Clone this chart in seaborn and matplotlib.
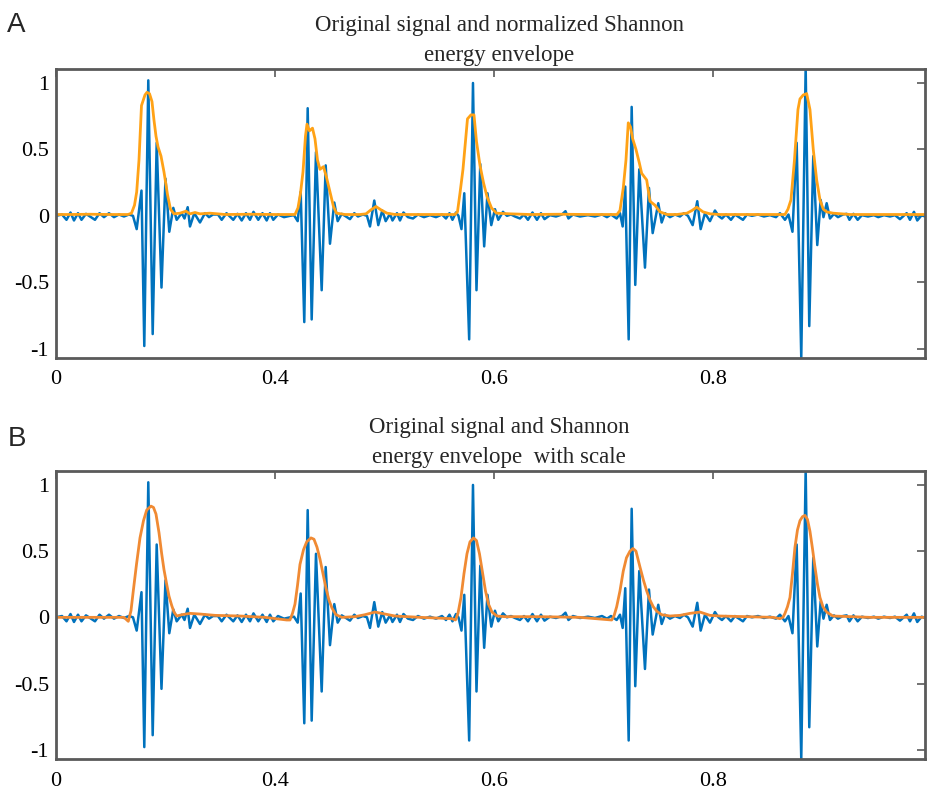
import numpy as np
import pandas as pd
import matplotlib
matplotlib.use("Agg")
import matplotlib.pyplot as plt
import seaborn as sns

# ── Data ───────────────────────────────────────────────────────────────────
FS = 1095          # samples per second (read-off resolution)
T_END = 869 / FS   # end of the recording shown

# heart sound (PCG) signal, peaks/troughs
sig_n = [
    0, 6, 10.5, 14.5, 18, 22, 25.5, 30, 34, 39, 43.5, 48, 53, 58, 63, 68, 73, 77,
    80.7, 85.5, 88.3, 92.3, 96.7, 100.7, 105.5, 109.5, 113.3, 117.3, 120.7, 125.7,
    128.5, 131.7, 134, 138.3, 144, 149, 153, 157,
    162, 165.7, 170.5, 177.3, 181.5, 185.7, 190, 194, 197.5, 202.3, 206.5, 210.7,
    214, 217.3, 222, 228, 234, 238,
    241.7, 244.7, 248.3, 251.7, 255.7, 260, 265.7, 269.7, 274, 278.3, 281.7, 285.7,
    290, 294, 298.3, 302, 307,
    311, 314, 318.3, 322.3, 326.3, 329.7, 334, 336.5, 341, 344, 347.5, 352,
    357, 362, 368, 374, 380, 386, 390, 393.5, 396.5, 400, 402.5,
    405.5, 408.3, 413.2, 417, 420.5, 424.3, 428.2, 431.5, 435.3, 439, 442.3, 447,
    451, 455, 459,
    464, 468, 472, 476.5, 481, 485, 488.5, 494, 500, 506, 509.5, 512.5, 517, 524,
    532, 539, 546, 551, 555,
    560.7, 564, 566.7, 569.3, 572.7, 575.7, 579.3, 583.3, 589, 593, 596.7, 602.3,
    605.7, 609, 614, 619, 624, 628, 632,
    636.7, 641.3, 644.7, 649, 654, 659, 662.5, 666, 670,
    675, 679, 683, 687, 691, 696, 702, 708, 714, 720, 724, 729, 732.5,
    736.5, 740.7, 745.3, 749.7, 753.3, 757.3, 761.3, 764.7, 767.5, 770.7, 774, 778,
    782, 787,
    790.7, 793.5, 797.5, 801.7, 806, 812, 818, 822.3, 828, 834, 839, 844, 850.7,
    854, 858, 861.3, 865.7, 869,
]
sig_v = [
    0.0, 0.01, -0.03, 0.025, -0.035, 0.02, -0.03, 0.015, -0.005, -0.03, 0.02, -0.01,
    0.02, -0.01, 0.01, -0.005, 0.01, 0.0,
    -0.10, 0.19, -0.98, 1.02, -0.89, 0.55, -0.54, 0.28, -0.12, 0.06, -0.03, 0.02,
    -0.02, 0.065, -0.08, 0.02, -0.05, 0.02, -0.01, 0.01,
    0.01, -0.03, 0.02, -0.03, 0.015, -0.035, 0.02, -0.03, 0.03, -0.03, 0.02, -0.035,
    0.02, -0.03, 0.01, -0.01, 0.0, 0.005,
    -0.04, 0.18, -0.80, 0.81, -0.78, 0.48, -0.56, 0.38, -0.21, 0.10, -0.04, 0.015,
    -0.005, -0.025, 0.02, -0.005, 0.01,
    0.0, -0.08, 0.115, -0.07, 0.04, -0.04, 0.015, -0.035, 0.02, -0.035, 0.025, -0.01,
    -0.02, 0.01, -0.01, 0.005, -0.01, 0.01, -0.02, 0.02, -0.03, 0.025, 0.0,
    -0.10, 0.17, -0.93, 1.0, -0.56, 0.39, -0.23, 0.17, -0.07, 0.05, -0.03, 0.03,
    0.0, 0.01, -0.005,
    -0.02, 0.01, -0.03, 0.025, -0.03, 0.02, -0.025, 0.005, -0.005, 0.01, 0.035, -0.02,
    0.01, -0.005, 0.005, -0.005, 0.01, -0.01, 0.01,
    -0.02, 0.02, -0.08, 0.22, -0.93, 0.82, -0.52, 0.35, -0.39, 0.21, -0.13, 0.095,
    -0.05, 0.02, -0.01, 0.01, -0.005, 0.02, 0.0,
    -0.07, 0.11, -0.10, 0.02, -0.04, 0.04, 0.0, -0.02, 0.01,
    -0.03, 0.01, -0.01, -0.03, 0.01, 0.0, 0.01, -0.005, 0.005, -0.01, 0.02, -0.03, 0.01,
    -0.12, 0.55, -1.07, 1.12, -0.83, 0.45, -0.22, 0.12, -0.01, 0.095, -0.02, 0.015,
    -0.01, 0.01,
    0.015, -0.03, 0.015, -0.03, 0.005, -0.005, 0.005, -0.01, 0.005, -0.005, 0.005,
    -0.025, 0.02, -0.03, 0.03, -0.035, 0.005, -0.005,
]

# normalized Shannon energy envelope (panel A)
env_a_n = [
    0, 14, 34, 54, 72, 75.5, 78.5, 80.7, 83, 85.5, 89, 91, 93.5, 96, 98, 100, 102,
    105, 108, 111.5, 114.5, 118, 124, 130, 134, 139, 144, 154, 169, 194, 219, 239,
    242, 244.5, 247, 249.5, 251, 253.5, 256.5, 259, 261.5, 264, 267.5, 270.5, 274,
    277.5, 280.5, 289, 304, 310, 315, 320, 325, 331, 339, 364, 399,
    401.5, 404, 407, 411.5, 415, 418, 420.5, 424, 427.5, 431, 435.5, 440.5, 454,
    474, 504, 534, 557,
    561, 564, 567.3, 570, 572.3, 574.5, 576.7, 580, 583.3, 585.7, 590.7, 594, 599,
    604, 611, 621, 631, 636, 640.7, 647, 654, 664, 694, 729,
    732, 735, 738.5, 742, 744, 747.3, 750.7, 754, 757.3, 760.7, 764, 767.3, 770.7,
    777, 794, 824, 869,
]
env_a_v = [
    0.01, 0.01, 0.012, 0.01, 0.01, 0.02, 0.08, 0.18, 0.42, 0.83, 0.91, 0.93, 0.92,
    0.86, 0.72, 0.60, 0.52, 0.45, 0.33, 0.16, 0.05, 0.015, 0.02, 0.035, 0.015, 0.025,
    0.015, 0.02, 0.01, 0.012, 0.01, 0.01,
    0.06, 0.17, 0.33, 0.60, 0.69, 0.64, 0.66, 0.58, 0.42, 0.35, 0.37, 0.29, 0.18,
    0.07, 0.02, 0.01, 0.01, 0.015, 0.045, 0.07, 0.045, 0.02, 0.01, 0.01, 0.01,
    0.03, 0.17, 0.35, 0.73, 0.76, 0.76, 0.56, 0.38, 0.25, 0.145, 0.06, 0.02, 0.015,
    0.01, 0.012, 0.01, 0.01,
    0.01, 0.04, 0.21, 0.42, 0.70, 0.67, 0.58, 0.50, 0.40, 0.32, 0.27, 0.11, 0.08,
    0.03, 0.01, 0.01, 0.02, 0.04, 0.065, 0.03, 0.015, 0.01, 0.01, 0.01,
    0.05, 0.12, 0.42, 0.80, 0.88, 0.91, 0.92, 0.80, 0.50, 0.27, 0.12, 0.05, 0.03,
    0.02, 0.01, 0.01, 0.01,
]

# Shannon energy envelope with scale (panel B)
env_b_n = [
    0, 44, 68, 72.3, 75, 77.3, 80.5, 84, 87.5, 90.7, 95, 97.5, 100, 103, 105.7, 108,
    110.7, 113, 115.7, 118, 120.7, 126, 134, 144, 159, 184, 209, 230.7,
    234, 236.5, 239, 241.5, 244, 247.5, 250.7, 255, 258, 261, 264, 267, 270, 273,
    276, 280, 286, 299, 309, 319, 329, 339, 364, 396,
    399.5, 402, 405, 408, 411, 414, 417.5, 420.5, 423.5, 426.5, 429.5, 432.5, 436,
    441, 449, 484, 524,
    555.7, 558, 560.7, 564, 567.3, 570.5, 574, 577, 580, 584, 587.5, 590.7, 594,
    597.3, 601, 605.7, 614, 624, 634, 644, 654, 664, 717,
    724, 727, 729, 731.5, 734, 736.5, 739, 741.5, 744, 746.5, 749, 751.5, 754, 756.5,
    759, 761.5, 764, 767, 770.7, 777, 814, 869,
]
env_b_v = [
    0.0, 0.0, 0.0, -0.03, 0.05, 0.20, 0.40, 0.60, 0.73, 0.81, 0.84, 0.83, 0.78, 0.64,
    0.48, 0.36, 0.25, 0.16, 0.09, 0.04, 0.01, 0.02, 0.03, 0.025, 0.015, 0.01, 0.0,
    -0.02,
    -0.02, 0.03, 0.10, 0.24, 0.40, 0.51, 0.57, 0.60, 0.59, 0.53, 0.44, 0.33, 0.22,
    0.13, 0.07, 0.02, 0.0, 0.005, 0.02, 0.04, 0.025, 0.01, 0.0, -0.01,
    -0.02, 0.03, 0.15, 0.33, 0.48, 0.57, 0.60, 0.58, 0.48, 0.34, 0.20, 0.10, 0.04,
    0.01, 0.005, 0.005, 0.0,
    -0.02, 0.01, 0.08, 0.20, 0.35, 0.45, 0.50, 0.52, 0.50, 0.38, 0.28, 0.20, 0.13,
    0.08, 0.045, 0.02, 0.01, 0.015, 0.03, 0.04, 0.015, 0.01, 0.0,
    -0.01, 0.0, 0.03, 0.08, 0.15, 0.33, 0.53, 0.66, 0.73, 0.76, 0.77, 0.74, 0.65,
    0.52, 0.38, 0.25, 0.15, 0.08, 0.04, 0.01, 0.0, 0.0,
]

XTICK_LABELS = ["0", "0.4", "0.6", "0.8"]
YTICKS = [-1, -0.5, 0, 0.5, 1]
YTICK_LABELS = ["-1", "-0.5", "0", "0.5", "1"]
TITLES = [
    "Original signal and normalized Shannon\nenergy envelope",
    "Original signal and Shannon\nenergy envelope  with scale",
]
LETTERS = ["A", "B"]

BLUE = "#0072BD"
ENV_COLORS = ["#FFA216", "#F08A33"]
FRAME = "#5a5a5a"

# ── Frames ─────────────────────────────────────────────────────────────────
signal = pd.DataFrame({"t": np.array(sig_n) / FS, "amp": sig_v})
envelopes = [
    pd.DataFrame({"t": np.array(env_a_n) / FS, "amp": env_a_v}),
    pd.DataFrame({"t": np.array(env_b_n) / FS, "amp": env_b_v}),
]

sns.set_theme(style="white")
plt.rcParams["font.family"] = ["Liberation Serif", "DejaVu Serif"]

fig = plt.figure(figsize=(9.27, 7.89), dpi=100)
ax_a = fig.add_axes([0.0604, 0.5463, 0.9374, 0.3662])
ax_b = fig.add_axes([0.0604, 0.0380, 0.9374, 0.3650])

for i, ax in enumerate([ax_a, ax_b]):
    sns.lineplot(data=signal, x="t", y="amp", ax=ax, color=BLUE, linewidth=1.8,
                 estimator=None, sort=False)
    sns.lineplot(data=envelopes[i], x="t", y="amp", ax=ax, color=ENV_COLORS[i],
                 linewidth=2.0, estimator=None, sort=False)

    ax.set_xlim(0, T_END)
    ax.set_ylim(-1.07, 1.105)
    ax.set_xticks(np.arange(len(XTICK_LABELS)) * 0.2)
    ax.set_xticklabels(XTICK_LABELS)
    ax.set_yticks(YTICKS)
    ax.set_yticklabels(YTICK_LABELS)
    ax.set_xlabel("")
    ax.set_ylabel("")
    ax.tick_params(direction="in", top=True, right=True, length=6, width=1.2,
                   color=FRAME, labelcolor="black", labelsize=16)
    ax.tick_params(axis="x", pad=9)
    ax.tick_params(axis="y", pad=5)
    for spine in ax.spines.values():
        spine.set_edgecolor(FRAME)
        spine.set_linewidth(2.0)
    ax.set_title(TITLES[i], fontsize=16.5, x=0.51, pad=6, linespacing=1.55)

fig.text(0.008, 0.968, LETTERS[0], fontsize=20, family="Liberation Sans", va="center")
fig.text(0.008, 0.443, LETTERS[1], fontsize=20, family="Liberation Sans", va="center")

fig.savefig("out.png", dpi=100)
